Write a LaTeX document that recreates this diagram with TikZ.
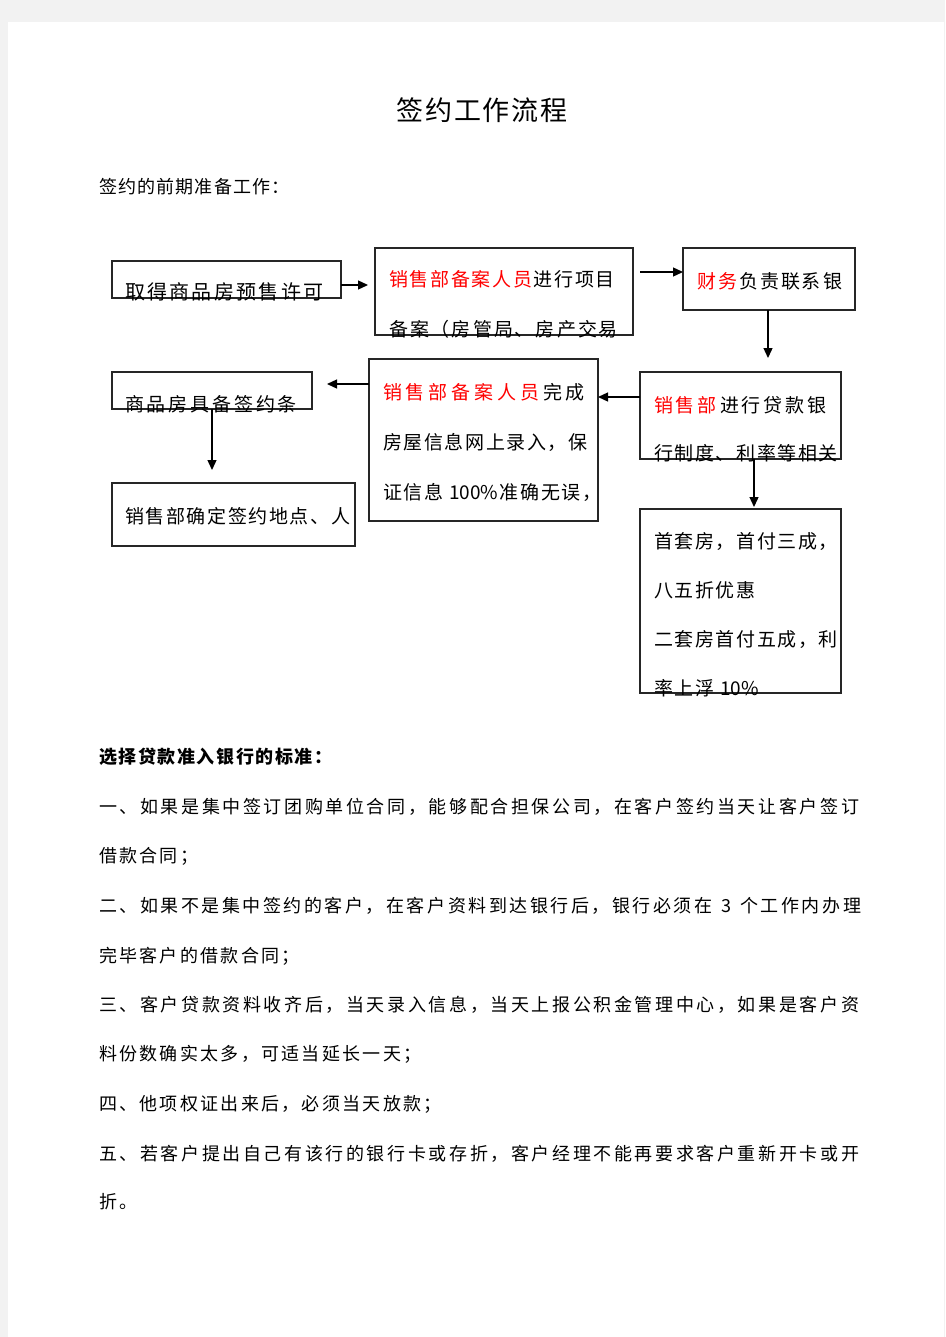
\documentclass[tikz,border=0pt]{standalone}
\usepackage{fontspec}
\setmainfont{Noto Sans CJK SC}
\usetikzlibrary{arrows.meta}
\newdimen\trk
\trk=2.3pt
\def\tg{\hskip\dimexpr\trk\relax plus 1fil\relax}
\def\settrk#1{\trk #1pt\relax}
\newXeTeXintercharclass\cjkcls
\newcount\cc
\def\setcls#1#2{\cc=#1\relax
  \loop\XeTeXcharclass\cc=\cjkcls\relax
  \ifnum\cc<#2\relax\advance\cc by 1\relax\repeat}
\setcls{"4E00}{"9FFF}
\setcls{"3000}{"303F}
\setcls{"FF00}{"FFEF}
\XeTeXinterchartokenstate=1
\XeTeXinterchartoks \cjkcls \cjkcls = {\tg}
\XeTeXinterchartoks 0 \cjkcls = {\tg}
\XeTeXinterchartoks \cjkcls 0 = {\tg}
\newcommand\spr[2]{\makebox[#1pt][s]{#2}}
\tikzset{
  box/.style={draw=black!85, line width=1.3pt, inner sep=0pt, outer sep=0pt},
  arr/.style={draw=black, line width=1.3pt, -{Triangle[length=10pt,width=9pt]}},
  txt/.style={inner sep=0pt, outer sep=0pt, anchor=base west, font={\fontsize{18}{20}\selectfont}},
  btxt/.style={txt, font={\fontsize{19}{21}\selectfont\settrk{1.6}}},
}
\begin{document}
\begin{tikzpicture}[x=1pt,y=-1pt]
\useasboundingbox (0,0) rectangle (945,1337);
\fill[black!5] (0,0) rectangle (945,1337);
\fill[white] (8,22) rectangle (944,1337);

% title and intro
\node[inner sep=0pt, anchor=base, font={\fontsize{27}{30}\selectfont\settrk{1.8}}] (title) at (482,121) {签约工作流程};
\node[txt, font={\fontsize{18}{20}\selectfont\settrk{1.2}}] (intro) at (99,194) {签约的前期准备工作：};

% boxes
\node[box, minimum width=229pt, minimum height=37pt] (b1) at (226.5,279.5) {};
\node[box, minimum width=258pt, minimum height=87pt] (b2) at (504,291.5) {};
\node[box, minimum width=172pt, minimum height=62pt] (b3) at (769,279) {};
\node[box, minimum width=201pt, minimum height=87pt] (b4) at (740.5,415.5) {};
\node[box, minimum width=229pt, minimum height=162pt] (b5) at (483.5,440) {};
\node[box, minimum width=200pt, minimum height=37pt] (b6) at (212,390.5) {};
\node[box, minimum width=243pt, minimum height=63pt] (b7) at (233.5,514.5) {};
\node[box, minimum width=201pt, minimum height=184pt] (b8) at (740.5,601) {};

% box texts
\node[txt, font={\fontsize{20}{22}\selectfont}] (t1) at (125,299) {\spr{198}{取得商品房预售许可}};
\node[btxt] (t2a) at (389,287) {\spr{226}{{\color{red}销售部备案人员}\tg 进行项目}};
\node[btxt] (t2b) at (389,336) {\spr{229}{备案（房管局、房产交易}};
\node[btxt] (t3) at (697,288) {\spr{145}{{\color{red}财务}\tg 负责联系银}};
\node[btxt] (t4a) at (654,412) {\spr{173}{{\color{red}销售部}\tg 进行贷款银}};
\node[btxt] (t4b) at (654,460) {\spr{173}{行制度、利率等相关}};
\node[btxt] (t5a) at (383,399) {\spr{202}{{\color{red}销售部备案人员}\tg 完成}};
\node[btxt] (t5b) at (383,449) {\spr{202}{房屋信息网上录入，保}};
\node[btxt] (t5c) at (383,499) {\spr{202}{证信息\kern6pt 100\%准确无误，}};
\node[btxt] (t6) at (125,411) {\spr{172}{商品房具备签约条}};
\node[btxt] (t7) at (125,523) {\spr{217}{销售部确定签约地点、人}};
\node[btxt] (t8a) at (654,548) {\spr{170}{首套房，首付三成，}};
\node[btxt] (t8b) at (654,597) {八五折优惠};
\node[btxt] (t8c) at (654,646) {\spr{173}{二套房首付五成，利}};
\node[btxt] (t8d) at (654,695) {率上浮\kern6pt 10\%};

% connectors
\coordinate (e1) at (368,285);
\draw[arr] (b1.east |- e1) -- (e1);
\coordinate (s2) at (640,272);
\draw[arr] (s2) -- (b3.west |- s2);
\coordinate (e3) at (768,358);
\draw[arr] (b3.south -| e3) -- (e3);
\coordinate (y4) at (0,397);
\draw[arr] (b4.west |- y4) -- (b5.east |- y4);
\coordinate (e5) at (327,384);
\draw[arr] (b5.west |- e5) -- (e5);
\coordinate (e6) at (212,470);
\draw[arr] (b6.south -| e6) -- (e6);
\coordinate (e7) at (754,507);
\draw[arr] (b4.south -| e7) -- (e7);

% standards text
\node[txt, font={\fontsize{18}{20}\selectfont\bfseries\settrk{1.6}}] (h) at (99,763) {选择贷款准入银行的标准：};
\node[txt] (l1) at (99,813) {\spr{760}{一、如果是集中签订团购单位合同，能够配合担保公司，在客户签约当天让客户签订}};
\node[txt] (l2) at (99,862) {借款合同；};
\node[txt] (l3) at (99,912) {\spr{762}{二、如果不是集中签约的客户，在客户资料到达银行后，银行必须在\kern9pt 3\kern9pt 个工作内办理}};
\node[txt] (l4) at (99,962) {完毕客户的借款合同；};
\node[txt] (l5) at (99,1011) {\spr{760}{三、客户贷款资料收齐后，当天录入信息，当天上报公积金管理中心，如果是客户资}};
\node[txt] (l6) at (99,1060) {料份数确实太多，可适当延长一天；};
\node[txt] (l7) at (99,1110) {四、他项权证出来后，必须当天放款；};
\node[txt] (l8) at (99,1160) {\spr{760}{五、若客户提出自己有该行的银行卡或存折，客户经理不能再要求客户重新开卡或开}};
\node[txt] (l9) at (99,1208) {折。};
\end{tikzpicture}
\end{document}
